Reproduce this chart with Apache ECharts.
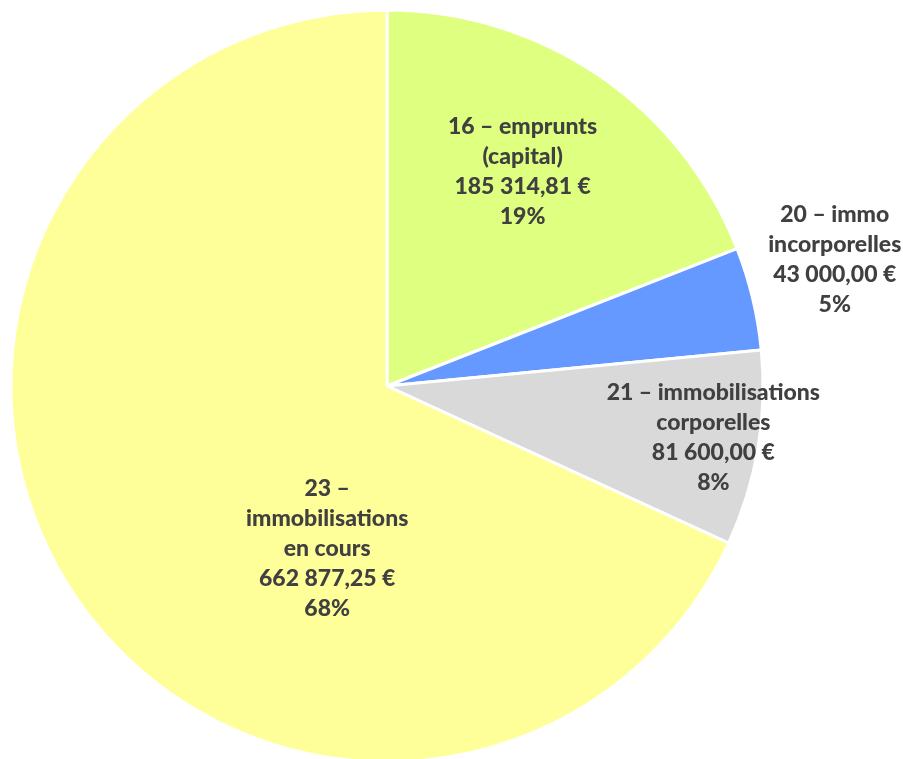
<!DOCTYPE html>
<html>
<head>
<meta charset="utf-8">
<script src="https://cdn.jsdelivr.net/npm/echarts@6/dist/echarts.min.js"></script>
<style>
  html, body { margin: 0; padding: 0; background: #fff; }
  #chart { width: 903px; height: 759px; }
</style>
</head>
<body>
<div id="chart"></div>
<script>
// données
const categories = ['16 – emprunts\n(capital)', '20 – immo\nincorporelles', '21 – immobilisations\ncorporelles', '23 –\nimmobilisations\nen cours']
const amounts = [185314.81, 43000.00, 81600.00, 662877.25]
const pctLabels = ['19%', '5%', '8%', '68%']
const colors = ['#dfff80', '#6699ff', '#d9d9d9', '#ffff99']
// décalage des étiquettes par rapport à la position "inside"
const labelShift = [[28, -57], [262, -82], [138, 20], [101, 60]]

function euro (v) {
  const parts = v.toFixed(2).split('.')
  const ent = parts[0].replace(/\B(?=(\d{3})+(?!\d))/g, ' ')
  return ent + ',' + parts[1] + ' €'
}

const chart = echarts.init(document.getElementById('chart'))
const option = {
  animation: false,
  series: [
    {
      type: 'pie',
      center: [387, 386],
      radius: 376,
      startAngle: 90,
      clockwise: true,
      avoidLabelOverlap: false,
      data: categories.map((c, i) => ({
        name: c,
        value: amounts[i],
        itemStyle: { color: colors[i] }
      })),
      itemStyle: {
        borderColor: '#fff',
        borderWidth: 3
      },
      label: {
        show: true,
        position: 'inside',
        color: '#404040',
        fontFamily: 'Lato',
        fontWeight: 900,
        fontSize: 23,
        lineHeight: 30,
        align: 'center',
        formatter: p => p.name + '\n' + euro(p.value) + '\n' + pctLabels[p.dataIndex]
      },
      labelLine: { show: false },
      labelLayout: p => ({ dx: labelShift[p.dataIndex][0], dy: labelShift[p.dataIndex][1] }),
      emphasis: { disabled: true }
    }
  ]
}
chart.setOption(option)
</script>
</body>
</html>
